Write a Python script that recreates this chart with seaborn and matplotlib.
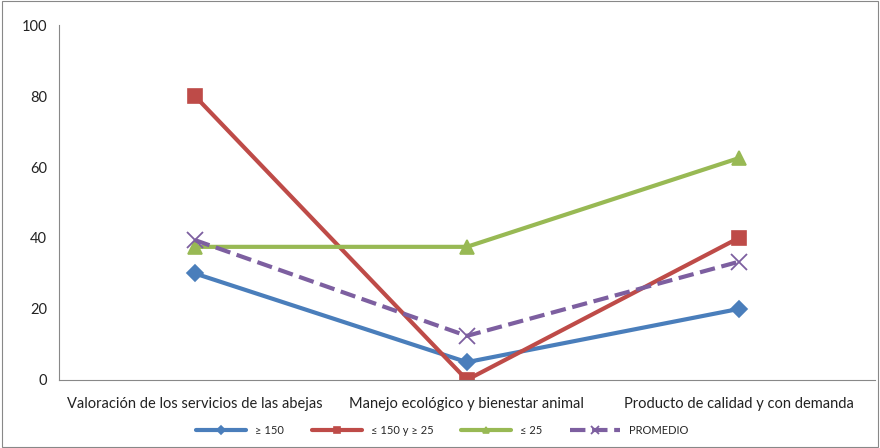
import matplotlib
matplotlib.use("Agg")
import matplotlib.pyplot as plt
import seaborn as sns
import pandas as pd
from matplotlib.patches import Rectangle

categories = ["Valoración de los servicios de las abejas",
              "Manejo ecológico y bienestar animal",
              "Producto de calidad y con demanda"]
serie_150 = [30, 5, 20]
serie_150_25 = [80, 0, 40]
serie_25 = [37.5, 37.5, 62.5]
promedio = [39.4, 12.4, 33.3]

series_names = ["≥ 150", "≤ 150 y ≥ 25", "≤ 25", "PROMEDIO"]
series_values = [serie_150, serie_150_25, serie_25, promedio]
colors = ["#4A7EBB", "#BE4B48", "#98B954", "#7D5FA0"]
markers = ["D", "s", "^", "x"]
sizes = [8, 10, 10, 11]
styles = ["-", "-", "-", "--"]

sns.set_style("white")
plt.rcParams["font.family"] = ["Lato", "DejaVu Sans"]

fig = plt.figure(figsize=(8.8, 4.48), dpi=100)
ax = fig.add_axes([0.067, 0.152, 0.927, 0.792])

for name, vals, c, m, ms, ls in zip(series_names, series_values, colors, markers, sizes, styles):
    df = pd.DataFrame({"cat": list(range(len(categories))), "val": vals})
    sns.lineplot(data=df, x="cat", y="val", ax=ax, color=c, marker=m, linestyle=ls,
                 linewidth=3, markersize=ms,
                 markeredgewidth=1.2 if m != "x" else 1.3,
                 markeredgecolor=c, label=name,
                 dashes=(3, 2.2) if ls == "--" else "")

ax.set_xlim(-0.5, 2.5)
ax.set_ylim(0, 100)
ax.set_yticks([0, 20, 40, 60, 80, 100])
ax.set_xticks(range(len(categories)))
ax.set_xticklabels(categories)
ax.set_xticks([-0.5, 0.5, 1.5, 2.5], minor=True)
ax.tick_params(axis="x", which="major", length=0, pad=12, labelsize=10.5, colors="#222222")
ax.tick_params(axis="x", which="minor", length=5, direction="out", color="#888888", width=0.8)
ax.tick_params(axis="y", length=5, direction="out", width=0.8, labelsize=10.5,
               labelcolor="#222222", color="#888888")
ax.set_xlabel("")
ax.set_ylabel("")
for s in ["top", "right"]:
    ax.spines[s].set_visible(False)
for s in ["left", "bottom"]:
    ax.spines[s].set_color("#888888")
    ax.spines[s].set_linewidth(0.8)

ax.legend(loc="upper center", bbox_to_anchor=(0.47, -0.1), ncol=4, frameon=False,
          fontsize=8, handlelength=4.5, columnspacing=2.5, markerscale=0.5)

fig.patches.append(Rectangle((0.002, 0.002), 0.996, 0.996, transform=fig.transFigure,
                             fill=False, edgecolor="#888888", linewidth=0.8))

fig.savefig("out.png", dpi=100)
